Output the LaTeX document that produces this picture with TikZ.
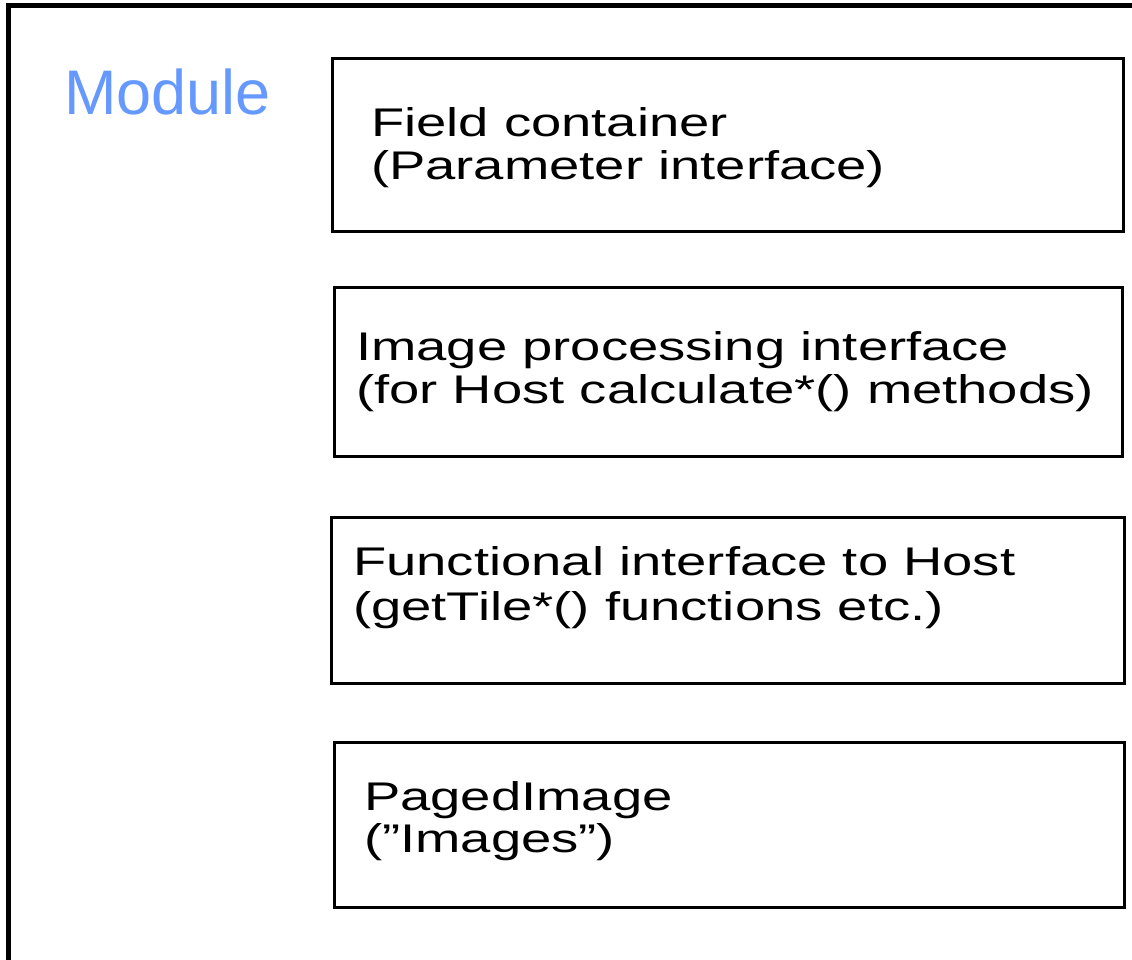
\documentclass[tikz,border=0pt]{standalone}
\usepackage{fontspec}
\setmainfont{Liberation Sans}
\newfontfamily\boxfont[FakeStretch=1.36]{Liberation Sans}
\newfontfamily\titlefont{Liberation Sans}
\definecolor{modblue}{RGB}{102,153,255}
\begin{document}
\begin{tikzpicture}[x=1pt,y=-1pt,
  modbox/.style={draw=black,line width=3pt},
  lbl/.style={inner sep=0pt,anchor=base west,font=\boxfont\fontsize{40}{43}\selectfont},
  title/.style={inner sep=0pt,anchor=base west,text=modblue,font=\titlefont\fontsize{63}{70}\selectfont}]
\useasboundingbox (0,0) rectangle (1132,960);
\clip (0,0) rectangle (1132,960);
% outer module frame (open to the right and bottom)
\coordinate (fbl) at (8,970);
\coordinate (ftl) at (8,5.5);
\coordinate (ftr) at (1140,5.5);
\draw[line width=5pt] (fbl) -- (ftl) -- (ftr);
\node[title] (mod) at (64,115) {Module};
% boxes
\draw[modbox] (332.5,59) rectangle (1123.5,231) node[pos=0,inner sep=0pt] (b1) {};
\draw[modbox] (334,287) rectangle (1122.5,456) node[pos=0,inner sep=0pt] (b2) {};
\draw[modbox] (331.5,517) rectangle (1124,683) node[pos=0,inner sep=0pt] (b3) {};
\draw[modbox] (334,742.5) rectangle (1124,907) node[pos=0,inner sep=0pt] (b4) {};
% texts
\node[lbl] (t1a) at (371,137) {Field container};
\node[lbl] (t1b) at (371,180) {(Parameter interface)};
\node[lbl] (t2a) at (356,360) {Image processing interface};
\node[lbl] (t2b) at (356,403) {(for Host calculate*() methods)};
\node[lbl] (t3a) at (353,575) {Functional interface to Host};
\node[lbl] (t3b) at (353,620) {(getTile*() functions etc.)};
\node[lbl] (t4a) at (364,810) {PagedImage};
\node[lbl] (t4b) at (364,852) {(”Images”)};
\end{tikzpicture}
\end{document}
